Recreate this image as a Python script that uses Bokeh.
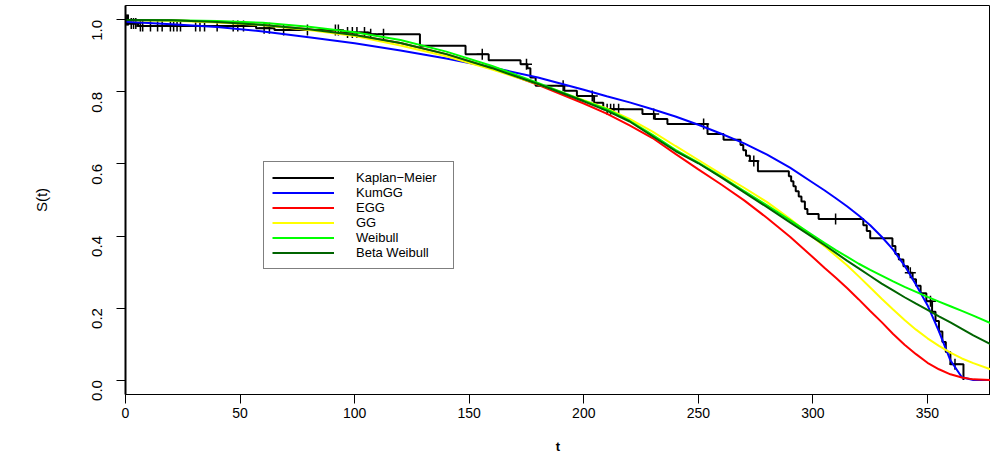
import numpy as np
from bokeh.plotting import figure
from bokeh.models import Range1d, FixedTicker, PrintfTickFormatter, Legend, LegendItem
from bokeh.embed import file_html
from bokeh.resources import INLINE

# Kaplan-Meier estimate (time of each step, survival after step)
km_time = [0, 1.5, 5.5, 57, 65, 94, 106, 128.5, 148.4, 158.5, 172.4, 175.4, 176.7, 179,
           191.5, 197, 204.5, 208.5, 225.6, 231, 236.5, 254, 261, 268.4, 269.6, 270.8,
           272.5, 276, 289.5, 290.5, 291.5, 292.5, 293.8, 295, 296.5, 297.6, 302.5,
           322, 323.5, 325, 334.7, 336, 337.5, 339.5, 341.5, 343.5, 345, 347, 349.5,
           352, 353.5, 355, 356.5, 358, 360, 365.7]
km_surv = [1.0, 0.990, 0.983, 0.977, 0.972, 0.965, 0.960, 0.928, 0.905, 0.888, 0.877, 0.866,
           0.840, 0.817, 0.803, 0.789, 0.770, 0.752, 0.739, 0.725, 0.711, 0.683, 0.667,
           0.653, 0.638, 0.623, 0.608, 0.580, 0.566, 0.552, 0.538, 0.524, 0.510, 0.496,
           0.475, 0.461, 0.447, 0.430, 0.414, 0.394, 0.372, 0.350, 0.335, 0.316, 0.298,
           0.280, 0.262, 0.241, 0.219, 0.190, 0.164, 0.135, 0.106, 0.078, 0.044, 0.0]
# censored times
cens_time = [0.3, 0.8, 1.2, 2.5, 3.5, 4.5, 6.5, 7.5, 10.9, 14, 16, 19.6, 21, 22.5, 24,
             30.6, 32.5, 34.5, 40, 47, 49, 51.5, 60.5, 62.8, 69, 79.4, 91.6, 92.9,
             96.9, 99, 101, 104.3, 107, 112.6, 155.7, 175.0, 191.0, 203.7, 210.2, 211.7,
             213.1, 215.2, 230.5, 252.3, 274.2, 309.9, 342.5, 351.3, 362]

# fitted survival curves
fit_t = [0, 20, 40, 60, 80, 100, 120, 140, 160, 180, 200, 210, 220, 230, 240, 250, 260,
         270, 280, 290, 300, 305, 310, 315, 320, 325, 330, 335, 340, 345, 350, 355, 360,
         365, 370, 377.5]
s_kumgg = [0.995, 0.988, 0.980, 0.968, 0.952, 0.935, 0.915, 0.893, 0.868, 0.840, 0.806,
           0.788, 0.771, 0.752, 0.732, 0.709, 0.684, 0.657, 0.626, 0.590, 0.548, 0.527,
           0.505, 0.482, 0.457, 0.430, 0.398, 0.362, 0.318, 0.265, 0.208, 0.135, 0.055,
           0.008, 0.0, 0.0]
s_egg = [1.0, 0.999, 0.994, 0.986, 0.974, 0.958, 0.936, 0.905, 0.866, 0.820, 0.768, 0.740,
         0.707, 0.672, 0.628, 0.585, 0.543, 0.499, 0.450, 0.398, 0.341, 0.312, 0.284,
         0.255, 0.224, 0.192, 0.161, 0.128, 0.098, 0.072, 0.048, 0.030, 0.016, 0.007,
         0.002, 0.0]
s_gg = [1.0, 0.998, 0.993, 0.985, 0.972, 0.955, 0.929, 0.899, 0.862, 0.822, 0.777, 0.754,
        0.725, 0.690, 0.650, 0.611, 0.572, 0.534, 0.494, 0.448, 0.397, 0.372, 0.345,
        0.318, 0.288, 0.257, 0.226, 0.196, 0.167, 0.140, 0.116, 0.095, 0.076, 0.060,
        0.047, 0.030]
s_weibull = [1.0, 0.999, 0.997, 0.992, 0.981, 0.966, 0.944, 0.912, 0.872, 0.825, 0.776,
             0.752, 0.720, 0.681, 0.639, 0.604, 0.565, 0.525, 0.485, 0.444, 0.402, 0.381,
             0.361, 0.342, 0.323, 0.306, 0.290, 0.274, 0.259, 0.245, 0.231, 0.218, 0.205,
             0.192, 0.179, 0.158]
s_betaweib = [1.0, 0.999, 0.994, 0.986, 0.974, 0.958, 0.936, 0.905, 0.866, 0.822, 0.774,
              0.748, 0.718, 0.677, 0.636, 0.602, 0.563, 0.521, 0.480, 0.438, 0.396, 0.375,
              0.353, 0.331, 0.310, 0.289, 0.268, 0.249, 0.230, 0.212, 0.195, 0.177, 0.160,
              0.142, 0.124, 0.100]

labels = ["Kaplan\u2212Meier", "KumGG", "EGG", "GG", "Weibull", "Beta Weibull"]
colors = ["black", "#0000FF", "#FF0000", "#FFFF00", "#00FF00", "#006400"]
x_ticks = [0, 50, 100, 150, 200, 250, 300, 350]
y_ticks = [0.0, 0.2, 0.4, 0.6, 0.8, 1.0]

FONT = "Liberation Sans, Arial, Helvetica, sans-serif"
NARROW = "Liberation Sans Narrow, Liberation Sans, Arial, sans-serif"

p = figure(width=990, height=458, output_backend="svg", toolbar_location=None,
           x_range=Range1d(0, 377.5), y_range=Range1d(-0.04, 1.04),
           min_border_left=125, min_border_right=0, min_border_top=5, min_border_bottom=64)
p.background_fill_color = "white"
p.border_fill_color = "white"
p.outline_line_color = "black"
p.outline_line_width = 1
p.xgrid.visible = False
p.ygrid.visible = False

renderers = []
r = p.step(km_time, km_surv, mode="after", line_color=colors[0], line_width=2)
renderers.append(r)
idx = np.searchsorted(np.array(km_time), np.array(cens_time), side="right") - 1
cens_s = [km_surv[i] for i in idx]
p.scatter(cens_time, cens_s, marker="cross", size=11, line_color="black", line_width=1.5)

for ys, c in zip([s_kumgg, s_egg, s_gg, s_weibull, s_betaweib], colors[1:]):
    renderers.append(p.line(fit_t, ys, line_color=c, line_width=2))

# axes
p.xaxis.ticker = FixedTicker(ticks=x_ticks)
p.yaxis.ticker = FixedTicker(ticks=y_ticks)
p.yaxis.formatter = PrintfTickFormatter(format="%.1f")
for ax in (p.xaxis[0], p.yaxis[0]):
    ax.axis_line_color = "black"
    ax.major_tick_line_color = "black"
    ax.minor_tick_line_color = None
    ax.major_tick_in = 0
    ax.major_tick_out = 9
    ax.major_label_text_color = "black"
    ax.axis_label_text_color = "black"
p.yaxis.axis_line_width = 2
p.xaxis.major_label_text_font = FONT
p.xaxis.major_label_text_font_size = "14px"
p.xaxis.major_label_standoff = 4
p.xaxis.axis_label = "t"
p.xaxis.axis_label_text_font = FONT
p.xaxis.axis_label_text_font_size = "13px"
p.xaxis.axis_label_text_font_style = "bold"
p.xaxis.axis_label_standoff = 18

p.yaxis.major_label_orientation = np.pi / 2
p.yaxis.major_label_text_font = NARROW
p.yaxis.major_label_text_font_size = "15px"
p.yaxis.major_label_standoff = 19
p.yaxis.axis_label = "S(t)"
p.yaxis.axis_label_text_font = NARROW
p.yaxis.axis_label_text_font_size = "15px"
p.yaxis.axis_label_text_font_style = "normal"
p.yaxis.axis_label_standoff = 35

legend = Legend(items=[LegendItem(label=l, renderers=[rr]) for l, rr in zip(labels, renderers)],
                location=(138, 125), orientation="vertical",
                label_text_font=FONT, label_text_font_size="13px", label_text_color="black",
                glyph_width=62, glyph_height=15, label_height=15, label_width=89,
                label_standoff=22, spacing=0, padding=8, margin=0,
                border_line_color="black", border_line_width=1,
                background_fill_color="white", background_fill_alpha=1.0)
p.add_layout(legend)

open("out.html", "w").write(file_html(p, INLINE))
